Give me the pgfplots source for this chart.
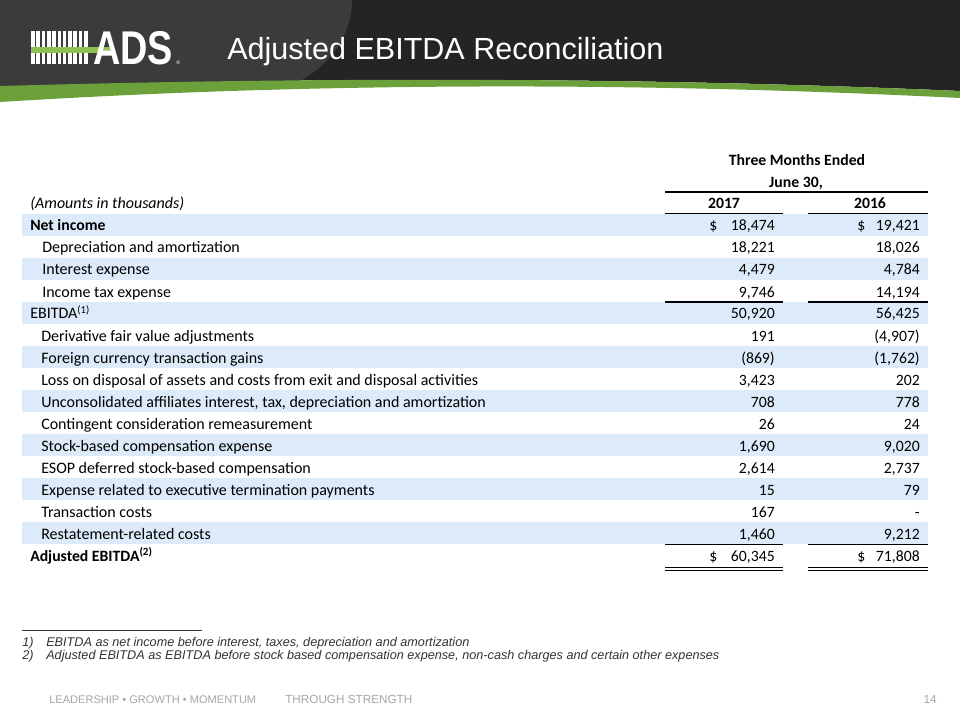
\documentclass[border=0pt]{standalone}
\usepackage{pgfplots}
\pgfplotsset{compat=1.18}
\usepackage{pgfplotstable}
\usepackage{fontspec}
\setmainfont{Carlito}
\newfontfamily\arial{Liberation Sans}

\definecolor{band}{HTML}{DCEAF9}
\definecolor{hdark}{HTML}{252324}
\definecolor{hlight}{HTML}{3B3B3B}
\definecolor{hgreen}{HTML}{6BA03B}
\definecolor{lgreen}{HTML}{8CC152}
\definecolor{footgray}{HTML}{A6A6A6}
\definecolor{notegray}{HTML}{333333}

\newcommand\tfont{\fontsize{11.8pt}{14pt}\selectfont}
\newcommand\lfont{\fontsize{12pt}{14pt}\selectfont}
\newcommand\pn[1]{\pgfmathprintnumber[fixed,precision=0,1000 sep={,},assume math mode=true]{#1}}
\def\fmtval#1{\expandafter\fmtvalA#1\relax}
\def\fmtvalA#1#2\relax{%
  \ifx-#1(\pn{#2})\else\ifx0#1-\else\pn{#1#2}\fi\fi}

% r = row, y = baseline (px), a = 2017, b = 2016 (amounts in thousands)
\pgfplotstableread{
r y a b
0 231 18474 19421
1 253 18221 18026
2 275 4479 4784
3 297 9746 14194
4 319 50920 56425
5 341 191 -4907
6 363 -869 -1762
7 385 3423 202
8 407 708 778
9 429 26 24
10 451 1690 9020
11 473 2614 2737
12 495 15 79
13 517 167 0
14 539 1460 9212
15 561 60345 71808
}\recon

\begin{document}
\begin{tikzpicture}
\begin{axis}[width=720pt,height=540pt,scale only axis,hide axis,
  xmin=0,xmax=960,ymin=0,ymax=720,y dir=reverse,clip=false]
% background
\fill[white] (axis cs:0,0) rectangle (axis cs:960,720);
% header
\fill[hdark] (axis cs:0,0) -- (axis cs:960,0) -- (axis cs:960,91)
  .. controls (axis cs:640,77) and (axis cs:320,77) .. (axis cs:0,86) -- cycle;
\fill[hlight] (axis cs:0,0) -- (axis cs:352,0) .. controls (axis cs:352,35) and (axis cs:330,70) .. (axis cs:285,88) -- (axis cs:0,90) -- cycle;
\fill[hgreen] (axis cs:0,86) .. controls (axis cs:320,77) and (axis cs:640,77) .. (axis cs:960,91)
  -- (axis cs:960,98) .. controls (axis cs:640,82) and (axis cs:320,82) .. (axis cs:0,102) -- cycle;
% logo
\pgfplotsinvokeforeach{0,...,10}{
  \fill[white] (axis cs:{31+5.3*#1},31) rectangle (axis cs:{31+5.3*#1+3.6},64);
}
\fill[lgreen] (axis cs:31,47) rectangle (axis cs:110,53);
\node[anchor=base west,inner sep=0pt,text=white,xscale=0.8] at (axis cs:93,64.5)
  {\arial\fontsize{35.5pt}{40pt}\selectfont\bfseries ADS};
\node[anchor=base west,inner sep=0pt,text=white] at (axis cs:176,65) {\arial\fontsize{4pt}{5pt}\selectfont\textregistered};
% title
\node[anchor=base west,inner sep=0pt,text=white] at (axis cs:227,60)
  {\arial\fontsize{22.9pt}{26pt}\selectfont Adjusted EBITDA Reconciliation};
% bands
\pgfplotsinvokeforeach{0,2,...,14}{
  \fill[band] (axis cs:22,{214+22*#1}) rectangle (axis cs:928,{236+22*#1});
}
% header text
\node[anchor=base,inner sep=0pt] at (axis cs:797,166) {\tfont\bfseries Three Months Ended};
\node[anchor=base,inner sep=0pt] at (axis cs:796,187.5) {\tfont\bfseries June 30,};
\node[anchor=base,inner sep=0pt] at (axis cs:724,209) {\tfont\bfseries 2017};
\node[anchor=base,inner sep=0pt] at (axis cs:870,209) {\tfont\bfseries 2016};
\node[anchor=base west,inner sep=0pt] at (axis cs:30,209) {\lfont\itshape (Amounts in thousands)};
% rules
\draw[line width=1.1pt] (axis cs:665,192) -- (axis cs:928,192);
\draw[line width=1.1pt] (axis cs:665,213.5) -- (axis cs:783,213.5);
\draw[line width=1.1pt] (axis cs:808,213.5) -- (axis cs:928,213.5);
\draw[line width=0.8pt] (axis cs:665,302) -- (axis cs:783,302);
\draw[line width=0.8pt] (axis cs:808,302) -- (axis cs:928,302);
\draw[line width=0.8pt] (axis cs:665,544.5) -- (axis cs:783,544.5);
\draw[line width=0.8pt] (axis cs:808,544.5) -- (axis cs:928,544.5);
\draw[line width=0.6pt] (axis cs:665,567) -- (axis cs:783,567);
\draw[line width=0.6pt] (axis cs:808,567) -- (axis cs:928,567);
\draw[line width=0.6pt] (axis cs:665,570) -- (axis cs:783,570);
\draw[line width=0.6pt] (axis cs:808,570) -- (axis cs:928,570);
% row labels
\begin{scope}[every node/.style={anchor=base west,inner sep=0pt,font=\lfont}]
\node at (axis cs:30,231) {\tfont\bfseries Net income};
\node at (axis cs:42,253) {Depreciation and amortization};
\node at (axis cs:42,275) {Interest expense};
\node at (axis cs:42,297) {Income tax expense};
\node at (axis cs:30,319) {EBITDA\textsuperscript{(1)}};
\node at (axis cs:41,341) {Derivative fair value adjustments};
\node at (axis cs:41,363) {Foreign currency transaction gains};
\node at (axis cs:41,385) {Loss on disposal of assets and costs from exit and disposal activities};
\node at (axis cs:41,407) {Unconsolidated affiliates interest, tax, depreciation and amortization};
\node at (axis cs:41,429) {Contingent consideration remeasurement};
\node at (axis cs:41,451) {Stock-based compensation expense};
\node at (axis cs:41,473) {ESOP deferred stock-based compensation};
\node at (axis cs:41,495) {Expense related to executive termination payments};
\node at (axis cs:41,517) {Transaction costs};
\node at (axis cs:41,539) {Restatement-related costs};
\node at (axis cs:30,561) {\tfont\bfseries Adjusted EBITDA\textsuperscript{(2)}};
\node at (axis cs:709,231) {\tfont\$};
\node at (axis cs:857,231) {\tfont\$};
\node at (axis cs:709,561) {\tfont\$};
\node at (axis cs:857,561) {\tfont\$};
\end{scope}
% values
\addplot[draw=none,mark=none,point meta=explicit symbolic,
  nodes near coords={\fmtval{\pgfplotspointmeta}},
  nodes near coords style={anchor=base east,inner sep=0pt,font=\tfont,text=black}]
  table[x expr=775,y=y,meta=a] {\recon};
\addplot[draw=none,mark=none,point meta=explicit symbolic,
  nodes near coords={\fmtval{\pgfplotspointmeta}},
  nodes near coords style={anchor=base east,inner sep=0pt,font=\tfont,text=black}]
  table[x expr=920,y=y,meta=b] {\recon};
% footnotes
\draw[line width=0.6pt,notegray] (axis cs:22,630) -- (axis cs:202,630);
\begin{scope}[every node/.style={anchor=base west,inner sep=0pt,text=notegray,font=\arial\fontsize{9.5pt}{11pt}\selectfont\itshape}]
\node at (axis cs:22,646) {1)};
\node at (axis cs:46,646) {EBITDA as net income before interest, taxes, depreciation and amortization};
\node at (axis cs:22,659.5) {2)};
\node at (axis cs:46,659.5) {Adjusted EBITDA as EBITDA before stock based compensation expense, non-cash charges and certain other expenses};
\end{scope}
% footer
\node[anchor=base west,inner sep=0pt,text=footgray] at (axis cs:49,703) {\arial\fontsize{8.3pt}{10pt}\selectfont LEADERSHIP \textbullet\ GROWTH \textbullet\ MOMENTUM};
\node[anchor=base west,inner sep=0pt,text=footgray] at (axis cs:285,703) {\arial\fontsize{8.8pt}{10pt}\selectfont THROUGH STRENGTH};
\node[anchor=base east,inner sep=0pt,text=footgray] at (axis cs:937,703) {\arial\fontsize{8.8pt}{10pt}\selectfont 14};
\end{axis}
\end{tikzpicture}
\end{document}
